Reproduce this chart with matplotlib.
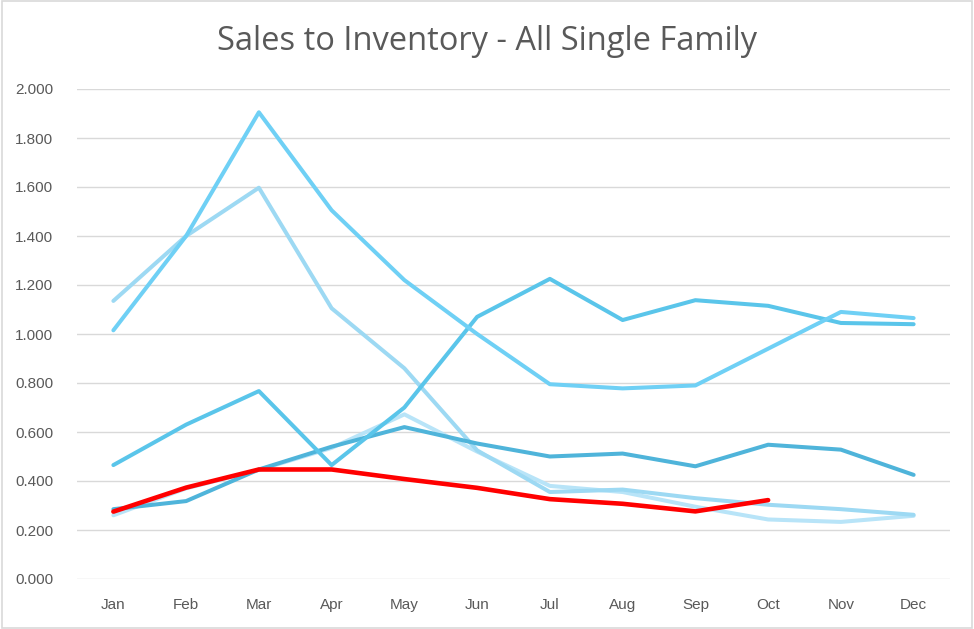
import matplotlib
matplotlib.use("Agg")
import matplotlib.pyplot as plt
from matplotlib.patches import Rectangle

months = ["Jan", "Feb", "Mar", "Apr", "May", "Jun", "Jul", "Aug", "Sep", "Oct", "Nov", "Dec"]

series_a = [1.015, 1.40, 1.905, 1.505, 1.22, 1.00, 0.795, 0.778, 0.79, 0.94, 1.09, 1.065]
series_b = [1.135, 1.40, 1.597, 1.105, 0.86, 0.525, 0.355, 0.365, 0.33, 0.303, 0.285, 0.262]
series_c = [0.465, 0.63, 0.767, 0.465, 0.70, 1.07, 1.225, 1.057, 1.138, 1.115, 1.045, 1.04]
series_d = [0.285, 0.318, 0.447, 0.54, 0.62, 0.553, 0.50, 0.512, 0.46, 0.548, 0.528, 0.425]
series_e = [0.26, 0.37, 0.445, 0.535, 0.672, 0.52, 0.38, 0.355, 0.295, 0.243, 0.233, 0.258]
series_red = [0.275, 0.373, 0.447, 0.447, 0.408, 0.372, 0.326, 0.307, 0.276, 0.322]

yticks = [0.0, 0.2, 0.4, 0.6, 0.8, 1.0, 1.2, 1.4, 1.6, 1.8, 2.0]

fig = plt.figure(figsize=(9.74, 6.29), dpi=100)
ax = fig.add_axes([77/974, 50/629, (950-77)/974, (579-89)/629])

x = list(range(len(months)))
lines = [
    (series_e, "#b8e4f8"),
    (series_b, "#9dd9f3"),
    (series_d, "#4fb4da"),
    (series_c, "#5ac5ea"),
    (series_a, "#6fd0f5"),
]
for vals, col in lines:
    ax.plot(x[:len(vals)], vals, color=col, lw=2.9, solid_capstyle="round", solid_joinstyle="round")
ax.plot(x[:len(series_red)], series_red, color="#ff0000", lw=3.3, solid_capstyle="round", solid_joinstyle="round")

ax.set_xlim(-0.5, 11.5)
ax.set_ylim(0, 2.0)
ax.set_yticks(yticks)
ax.set_yticklabels([f"{v:.3f}" for v in yticks])
ax.set_xticks(x)
ax.set_xticklabels(months)
ax.grid(axis="y", color="#d9d9d9", lw=1.0)
ax.set_axisbelow(True)
for s in ax.spines.values():
    s.set_visible(False)
ax.tick_params(axis="both", length=0, colors="#595959", labelsize=11)
ax.tick_params(axis="x", pad=14)
ax.tick_params(axis="y", pad=17)
for lab in ax.get_xticklabels() + ax.get_yticklabels():
    lab.set_fontfamily("Liberation Sans")

fig.text(0.5, 1 - 42/629, "Sales to Inventory - All Single Family", ha="center", va="center",
         fontsize=23.5, color="#595959", family="Open Sans")

fig.patches.append(Rectangle((0.002, 0.002), 0.996, 0.996, transform=fig.transFigure,
                             fill=False, edgecolor="#d9d9d9", lw=1.2))

fig.savefig("out.png", dpi=100)
